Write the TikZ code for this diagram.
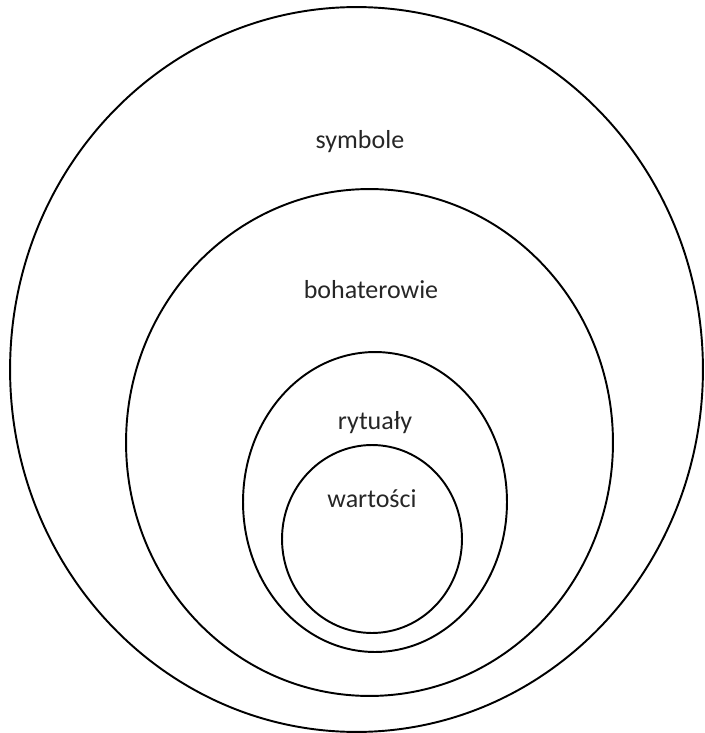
\documentclass[tikz,border=0pt]{standalone}
\usepackage{fontspec}
\setmainfont{Carlito}
\usetikzlibrary{shapes.geometric}

\begin{document}
\begin{tikzpicture}[
        x=0.02cm, y=-0.02cm,
        layer/.style={draw, ellipse, line width=1.1pt, inner sep=0pt, outer sep=0pt},
        label/.style={anchor=base, text=black!85, font=\fontsize{14.8}{18}\selectfont}
    ]
        \useasboundingbox (0,0) rectangle (705,733);

        % Layers, from the outside in
        \node (symbols) [layer, minimum width=13.86cm, minimum height=14.5cm] at (356.5,369.5) {};
        \node (heroes) [layer, minimum width=9.74cm, minimum height=10.14cm] at (369.5,442.5) {};
        \node (rituals) [layer, minimum width=5.28cm, minimum height=6cm] at (375,502) {};
        \node (values) [layer, minimum width=3.6cm, minimum height=3.76cm] at (372,539) {};

        % Labels
        \node (symbols_label) [label] at (360,149) {symbole};
        \node (heroes_label) [label] at (371,298) {bohaterowie};
        \node (rituals_label) [label] at (375,429) {rytuały};
        \node (values_label) [label] at (372,507) {wartości};
    \end{tikzpicture}
\end{document}
